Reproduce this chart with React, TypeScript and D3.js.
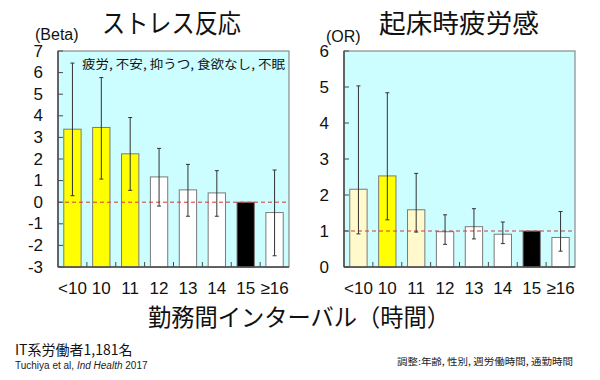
import React from "react";
import * as d3 from "d3";

const categories = ["<10", "10", "11", "12", "13", "14", "15", "≥16"];

// Left panel: ストレス反応 (Beta)
const betaValues = [3.38, 3.46, 2.24, 1.17, 0.57, 0.43, 0, -0.48];
const betaUpper = [6.44, 5.77, 3.92, 2.49, 1.75, 1.46, 0, 1.49];
const betaLower = [0.3, 1.07, 0.55, -0.18, -0.65, -0.65, 0, -2.48];
const betaFills = ["#FFFF00", "#FFFF00", "#FFFF00", "#FFFFFF", "#FFFFFF", "#FFFFFF", "#000000", "#FFFFFF"];
const betaTicks = [-3, -2, -1, 0, 1, 2, 3, 4, 5, 6, 7];

// Right panel: 起床時疲労感 (OR)
const orValues = [2.16, 2.53, 1.59, 0.98, 1.12, 0.91, 1.0, 0.82];
const orUpper = [5.03, 4.84, 2.6, 1.45, 1.62, 1.25, 1.0, 1.54];
const orLower = [0.92, 1.31, 0.97, 0.63, 0.78, 0.65, 1.0, 0.44];
const orFills = ["#FFF9CC", "#FFFF00", "#FFF9CC", "#FFFFFF", "#FFFFFF", "#FFFFFF", "#000000", "#FFFFFF"];
const orTicks = [0, 1, 2, 3, 4, 5, 6];

const JP = "'Noto Sans CJK JP', 'Noto Sans', sans-serif";
const NUM = "'Liberation Sans', Arial, sans-serif";

type PanelProps = {
  x0: number;
  x1: number;
  y0: number;
  y1: number;
  domain: [number, number];
  ticks: number[];
  values: number[];
  upper: number[];
  lower: number[];
  fills: string[];
  refLine: number;
};

function Panel(p: PanelProps) {
  const x = d3.scaleBand<string>().domain(categories).range([p.x0, p.x1]).paddingInner(0.4).paddingOuter(0.2);
  const xb = d3.scaleBand<string>().domain(categories).range([p.x0, p.x1]);
  const y = d3.scaleLinear().domain(p.domain).range([p.y1, p.y0]);
  const base = p.domain[0];
  const bw = x.bandwidth();
  return (
    <g>
      <rect x={p.x0} y={p.y0} width={p.x1 - p.x0} height={p.y1 - p.y0} fill="#CCFDFF" stroke="#8a8a8a" strokeWidth={1.2} />
      {categories.map((c, i) => {
        const top = y(p.values[i]);
        const bot = y(base);
        return (
          <rect key={"b" + c} x={x(c)} y={top} width={bw} height={bot - top} fill={p.fills[i]} stroke="#7a7a7a" strokeWidth={1} />
        );
      })}
      <line x1={p.x0} x2={p.x1} y1={y(p.refLine)} y2={y(p.refLine)} stroke="#d23a3a" strokeWidth={1} strokeDasharray="4,3" />
      {categories.map((c, i) => {
        if (p.upper[i] === p.lower[i]) return null;
        const cx = (x(c) as number) + bw / 2;
        return (
          <g key={"e" + c} stroke="#333" strokeWidth={1}>
            <line x1={cx} x2={cx} y1={y(p.upper[i])} y2={y(p.lower[i])} />
            <line x1={cx - 2} x2={cx + 2} y1={y(p.upper[i])} y2={y(p.upper[i])} />
            <line x1={cx - 2} x2={cx + 2} y1={y(p.lower[i])} y2={y(p.lower[i])} />
          </g>
        );
      })}
      {/* axes */}
      <line x1={p.x0} x2={p.x0} y1={p.y0} y2={p.y1} stroke="#4a4a4a" strokeWidth={1.5} />
      <line x1={p.x0} x2={p.x1} y1={p.y1} y2={p.y1} stroke="#4a4a4a" strokeWidth={1.5} />
      {p.ticks.map((t) => (
        <g key={"t" + t}>
          <line x1={p.x0} x2={p.x0 + 5} y1={y(t)} y2={y(t)} stroke="#4a4a4a" strokeWidth={1} />
          <text x={p.x0 - 15} y={y(t)} textAnchor="end" dominantBaseline="central" fontFamily={NUM} fontSize={17} fill="#111">
            {t}
          </text>
        </g>
      ))}
      {categories.slice(1).map((c) => (
        <line key={"xt" + c} x1={xb(c)} x2={xb(c)} y1={p.y1} y2={p.y1 - 5} stroke="#4a4a4a" strokeWidth={1} />
      ))}
      {categories.map((c) => (
        <text key={"xl" + c} x={(xb(c) as number) + xb.bandwidth() / 2} y={294} textAnchor="middle" fontFamily={NUM} fontSize={17} fill="#111">
          {c}
        </text>
      ))}
    </g>
  );
}

export default function App() {
  return (
    <svg width={600} height={380} style={{ position: "absolute", left: 0, top: 0, background: "#fff" }}>
      <rect x={0} y={0} width={600} height={380} fill="#fff" />
      <Panel x0={58} x1={289} y0={51} y1={267} domain={[-3, 7]} ticks={betaTicks} values={betaValues} upper={betaUpper} lower={betaLower} fills={betaFills} refLine={0} />
      <Panel x0={344} x1={575} y0={51} y1={267} domain={[0, 6]} ticks={orTicks} values={orValues} upper={orUpper} lower={orLower} fills={orFills} refLine={1} />

      <text x={171.5} y={33} textAnchor="middle" fontFamily={JP} fontSize={26} fill="#111" textLength={139} lengthAdjust="spacingAndGlyphs">
        ストレス反応
      </text>
      <text x={459} y={33} textAnchor="middle" fontFamily={JP} fontSize={26} fill="#111" textLength={160} lengthAdjust="spacingAndGlyphs">
        起床時疲労感
      </text>
      <text x={35} y={40} fontFamily={NUM} fontSize={16} fill="#111">(Beta)</text>
      <text x={326} y={42} fontFamily={NUM} fontSize={16} fill="#111">(OR)</text>
      <text x={82} y={69} fontFamily={JP} fontSize={12.5} fill="#111" textLength={203} lengthAdjust="spacingAndGlyphs">
        疲労, 不安, 抑うつ, 食欲なし, 不眠
      </text>
      <text x={299} y={326} textAnchor="middle" fontFamily={JP} fontSize={24} fill="#111" textLength={302} lengthAdjust="spacingAndGlyphs">
        勤務間インターバル（時間）
      </text>
      <text x={15} y={355} fontFamily={JP} fontSize={14} fill="#111">IT系労働者1,181名</text>
      <text x={15} y={369} fontFamily={NUM} fontSize={10} fill="#222">
        Tuchiya et al, <tspan fontStyle="italic">Ind Health</tspan> 2017
      </text>
      <text x={397} y={365} fontFamily={JP} fontSize={9.5} fill="#222" textLength={176} lengthAdjust="spacingAndGlyphs">
        調整:年齢, 性別, 週労働時間, 通勤時間
      </text>
    </svg>
  );
}
